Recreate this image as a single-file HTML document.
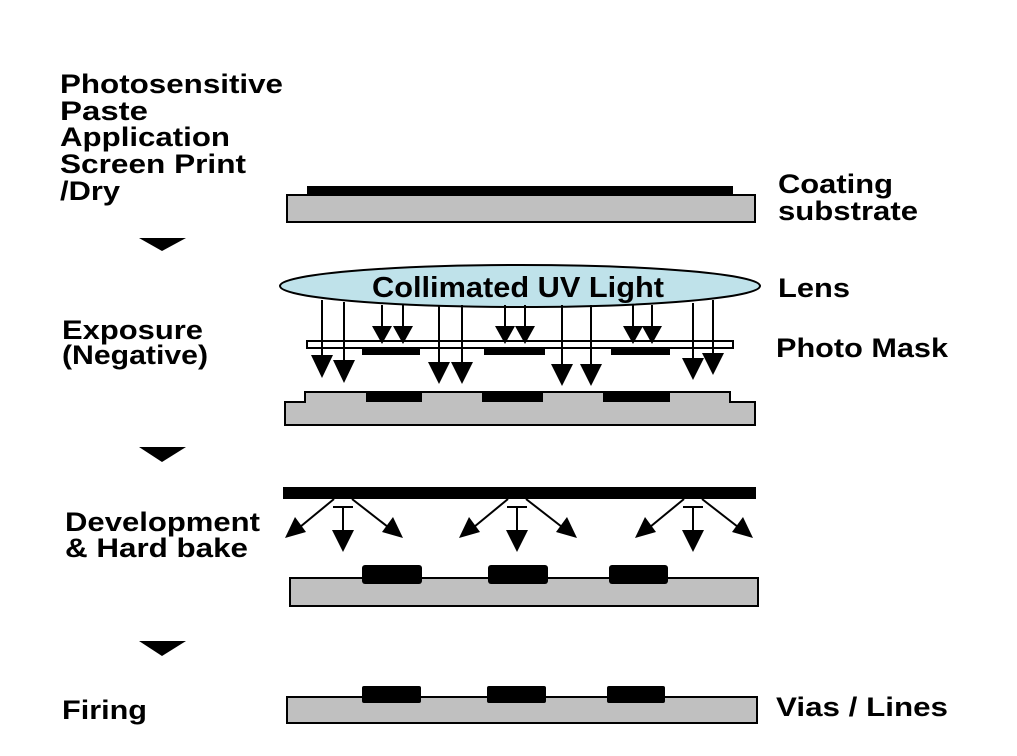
<!DOCTYPE html>
<html><head><style>html,body{margin:0;padding:0;background:#fff}svg{display:block}</style></head>
<body>
<svg width="1017" height="756" viewBox="0 0 1017 756" xmlns="http://www.w3.org/2000/svg">
<g font-family="Liberation Sans, Arial, sans-serif" font-weight="bold" font-size="27" fill="#000">
<text x="60" y="93" textLength="223" lengthAdjust="spacingAndGlyphs">Photosensitive</text>
<text x="60" y="120" textLength="88" lengthAdjust="spacingAndGlyphs">Paste</text>
<text x="60" y="146" textLength="170" lengthAdjust="spacingAndGlyphs">Application</text>
<text x="60" y="173" textLength="186" lengthAdjust="spacingAndGlyphs">Screen Print</text>
<text x="60" y="200" textLength="60" lengthAdjust="spacingAndGlyphs">/Dry</text>
<text x="62" y="339" textLength="141" lengthAdjust="spacingAndGlyphs">Exposure</text>
<text x="62" y="364" textLength="146" lengthAdjust="spacingAndGlyphs">(Negative)</text>
<text x="65" y="531" textLength="195" lengthAdjust="spacingAndGlyphs">Development</text>
<text x="65" y="557" textLength="183" lengthAdjust="spacingAndGlyphs">&amp; Hard bake</text>
<text x="62" y="719" textLength="85" lengthAdjust="spacingAndGlyphs">Firing</text>
<text x="778" y="193" textLength="115" lengthAdjust="spacingAndGlyphs">Coating</text>
<text x="778" y="220" textLength="140" lengthAdjust="spacingAndGlyphs">substrate</text>
<text x="778" y="297" textLength="72" lengthAdjust="spacingAndGlyphs">Lens</text>
<text x="776" y="357" textLength="172" lengthAdjust="spacingAndGlyphs">Photo Mask</text>
<text x="776" y="716" textLength="172" lengthAdjust="spacingAndGlyphs">Vias / Lines</text>
</g>
<polygon points="139,238 186,238 162,251" fill="#000"/>
<polygon points="139,447 186,447 162,462" fill="#000"/>
<polygon points="139,641 186,641 162,656" fill="#000"/>
<rect x="307" y="186" width="426" height="9" fill="#000"/>
<rect x="287" y="195" width="468" height="27" fill="#c0c0c0" stroke="#000" stroke-width="2"/>
<ellipse cx="520" cy="286" rx="240" ry="21" fill="#bfe2ea" stroke="#000" stroke-width="2"/>
<text x="518" y="297" text-anchor="middle" font-family="Liberation Sans, Arial, sans-serif" font-weight="bold" font-size="29" textLength="292" lengthAdjust="spacingAndGlyphs">Collimated UV Light</text>
<rect x="307" y="341" width="426" height="7" fill="#fff" stroke="#000" stroke-width="2"/>
<rect x="362" y="348" width="58" height="7" fill="#000"/>
<rect x="484" y="348" width="61" height="7" fill="#000"/>
<rect x="611" y="348" width="59" height="7" fill="#000"/>
<g stroke="#000" stroke-width="2">
<line x1="322" y1="300" x2="322" y2="365"/><line x1="344" y1="302" x2="344" y2="370"/>
<line x1="439" y1="305" x2="439" y2="370"/><line x1="462" y1="305" x2="462" y2="370"/>
<line x1="562" y1="305" x2="562" y2="372"/><line x1="591" y1="305" x2="591" y2="372"/>
<line x1="693" y1="303" x2="693" y2="365"/><line x1="713" y1="300" x2="713" y2="360"/>
<line x1="382" y1="305" x2="382" y2="330"/><line x1="403" y1="305" x2="403" y2="330"/>
<line x1="505" y1="305" x2="505" y2="330"/><line x1="525" y1="305" x2="525" y2="330"/>
<line x1="633" y1="305" x2="633" y2="330"/><line x1="652" y1="305" x2="652" y2="330"/>
</g>
<g fill="#000">
<polygon points="311,355 333,355 322,378"/><polygon points="333,360 355,360 344,383"/>
<polygon points="428,362 450,362 439,384"/><polygon points="451,362 473,362 462,384"/>
<polygon points="551,364 573,364 562,386"/><polygon points="580,364 602,364 591,386"/>
<polygon points="682,358 704,358 693,380"/><polygon points="702,353 724,353 713,375"/>
<polygon points="372,326 392,326 382,344"/><polygon points="393,326 413,326 403,344"/>
<polygon points="495,326 515,326 505,344"/><polygon points="515,326 535,326 525,344"/>
<polygon points="623,326 643,326 633,344"/><polygon points="642,326 662,326 652,344"/>
</g>
<path d="M285,402 L305,402 L305,392 L730,392 L730,402 L755,402 L755,425 L285,425 Z" fill="#c0c0c0" stroke="#000" stroke-width="2"/>
<rect x="366" y="392" width="56" height="10" fill="#000"/>
<rect x="482" y="392" width="61" height="10" fill="#000"/>
<rect x="603" y="392" width="67" height="10" fill="#000"/>
<rect x="283" y="487" width="473" height="12" fill="#000"/>
<g stroke="#000" stroke-width="2">
<line x1="334" y1="499" x2="300" y2="527"/><line x1="352" y1="499" x2="388" y2="527"/><line x1="343" y1="508" x2="343" y2="540"/><line x1="333" y1="507" x2="353" y2="507"/>
<line x1="508" y1="499" x2="474" y2="527"/><line x1="526" y1="499" x2="562" y2="527"/><line x1="517" y1="508" x2="517" y2="540"/><line x1="507" y1="507" x2="527" y2="507"/>
<line x1="684" y1="499" x2="650" y2="527"/><line x1="702" y1="499" x2="738" y2="527"/><line x1="693" y1="508" x2="693" y2="540"/><line x1="683" y1="507" x2="703" y2="507"/>
</g>
<g fill="#000">
<polygon points="285,538 295,517 306,532"/><polygon points="403,538 382,532 393,517"/>
<polygon points="332,530 354,530 343,552"/>
<polygon points="459,538 469,517 480,532"/><polygon points="577,538 556,532 567,517"/>
<polygon points="506,530 528,530 517,552"/>
<polygon points="635,538 645,517 656,532"/><polygon points="753,538 732,532 743,517"/>
<polygon points="682,530 704,530 693,552"/>
</g>
<rect x="290" y="578" width="468" height="28" fill="#c0c0c0" stroke="#000" stroke-width="2"/>
<rect x="362" y="565" width="60" height="19" rx="3" fill="#000"/>
<rect x="488" y="565" width="60" height="19" rx="3" fill="#000"/>
<rect x="609" y="565" width="59" height="19" rx="3" fill="#000"/>
<rect x="287" y="697" width="470" height="26" fill="#c0c0c0" stroke="#000" stroke-width="2"/>
<rect x="362" y="686" width="59" height="17" rx="2" fill="#000"/>
<rect x="487" y="686" width="59" height="17" rx="2" fill="#000"/>
<rect x="607" y="686" width="58" height="17" rx="2" fill="#000"/>
</svg>
</body></html>
